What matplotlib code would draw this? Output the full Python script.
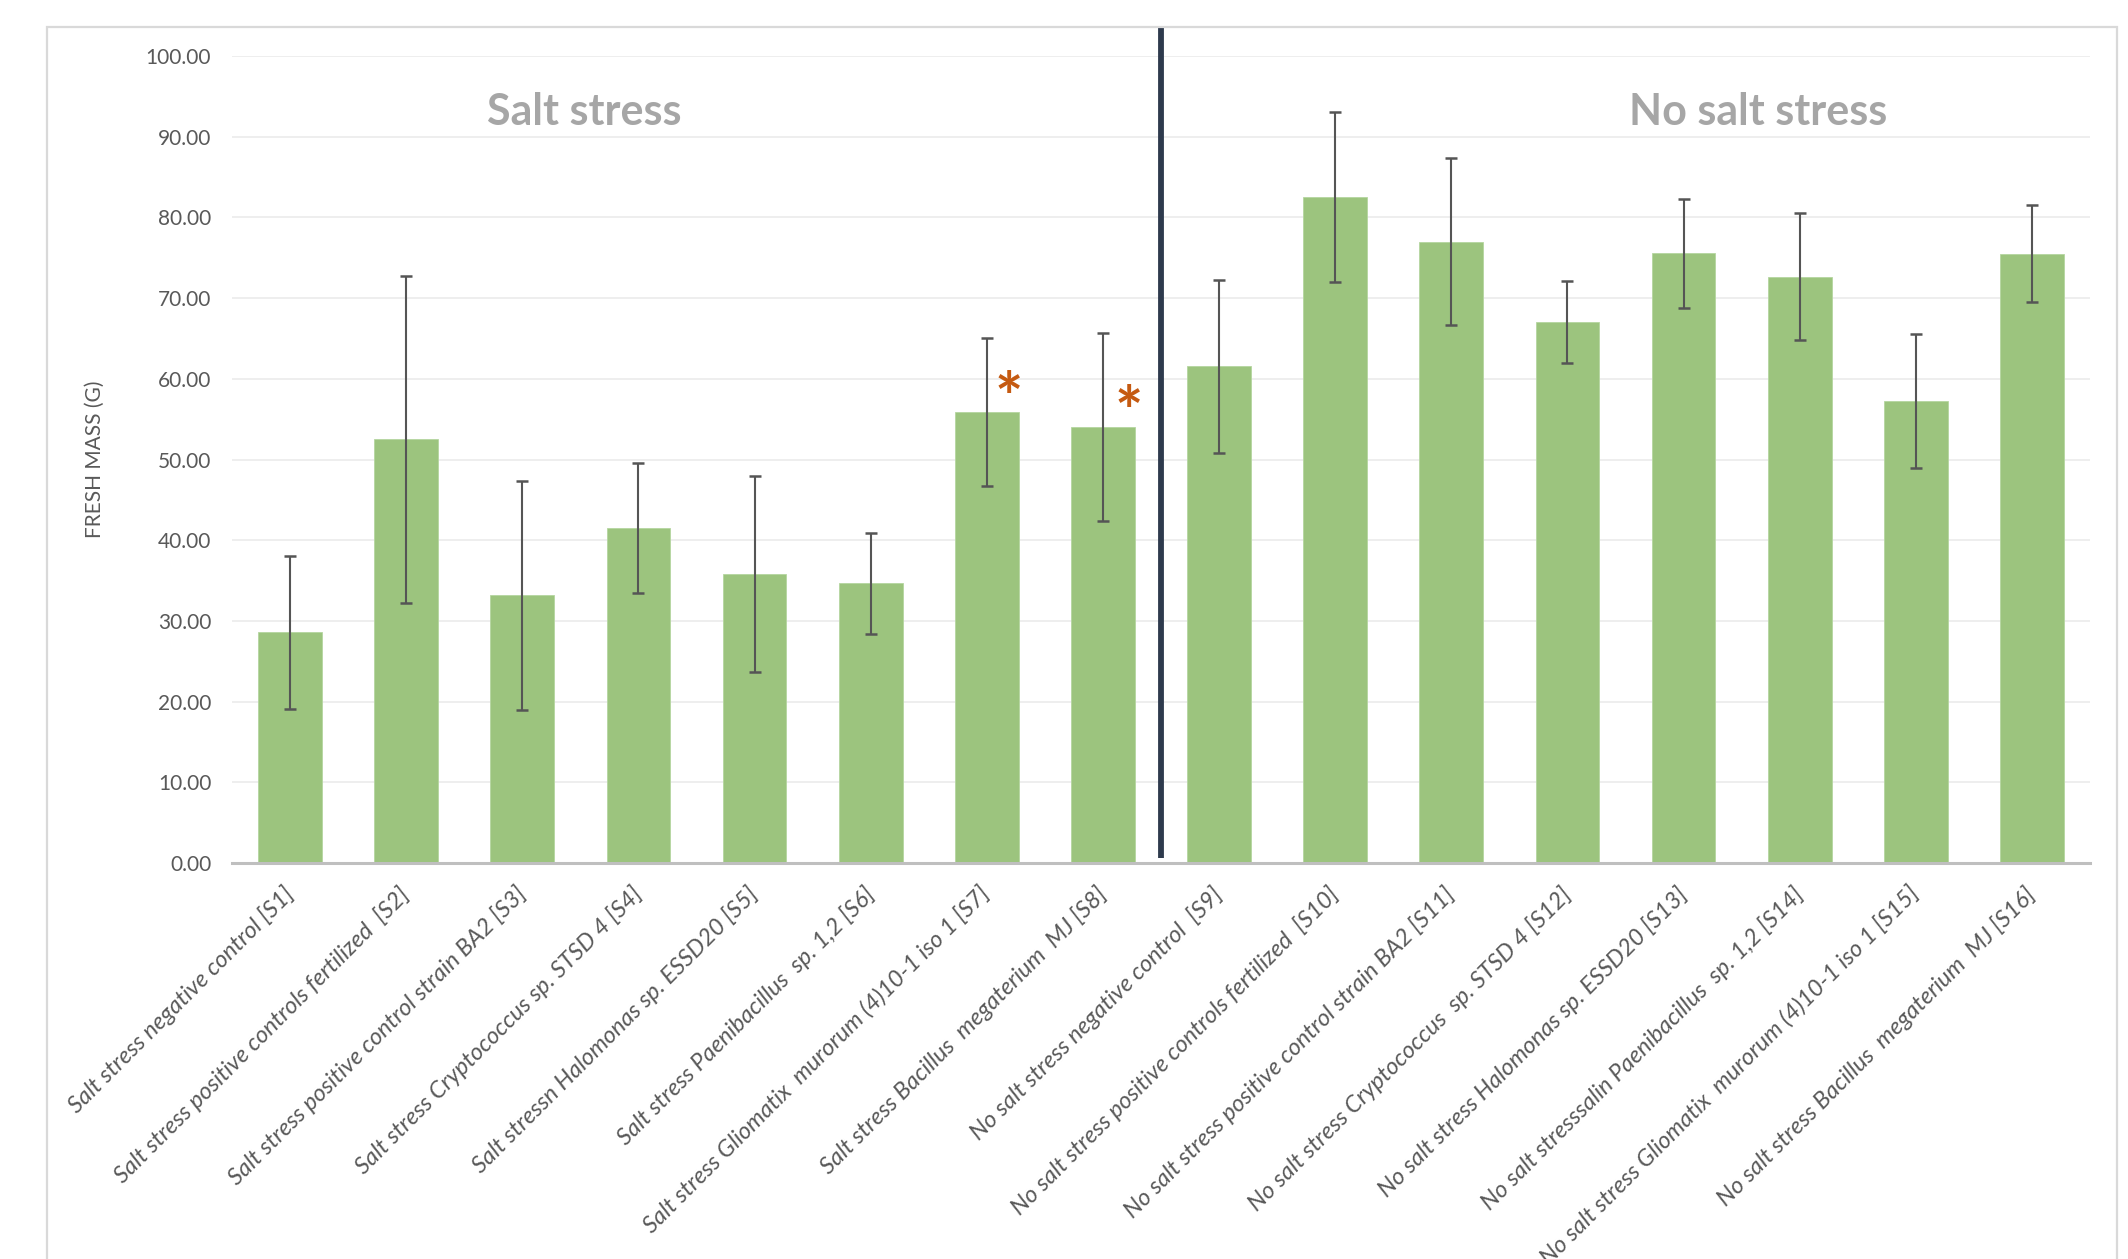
import matplotlib
matplotlib.use("Agg")
import matplotlib.pyplot as plt
from matplotlib.patches import Rectangle

# Fresh mass per treatment (mean and standard deviation, g)
labels = [
    "Salt stress negative control [S1]",
    "Salt stress positive controls fertilized  [S2]",
    "Salt stress positive control strain BA2 [S3]",
    "Salt stress Cryptococcus sp. STSD 4 [S4]",
    "Salt stressn Halomonas sp. ESSD20 [S5]",
    "Salt stress Paenibacillus  sp. 1,2 [S6]",
    "Salt stress Gliomatix  murorum (4)10-1 iso 1 [S7]",
    "Salt stress Bacillus  megaterium  MJ [S8]",
    "No salt stress negative control  [S9]",
    "No salt stress positive controls fertilized  [S10]",
    "No salt stress positive control strain BA2 [S11]",
    "No salt stress Cryptococcus  sp. STSD 4 [S12]",
    "No salt stress Halomonas sp. ESSD20 [S13]",
    "No salt stresssalin Paenibacillus  sp. 1,2 [S14]",
    "No salt stress Gliomatix  murorum (4)10-1 iso 1 [S15]",
    "No salt stress Bacillus  megaterium  MJ [S16]",
]
means = [28.6, 52.5, 33.15, 41.55, 35.8, 34.65, 55.85, 54.05,
         61.55, 82.55, 77.0, 67.05, 75.55, 72.65, 57.25, 75.5]
sd = [9.5, 20.3, 14.15, 8.05, 12.1, 6.25, 9.15, 11.65,
      10.75, 10.55, 10.3, 5.05, 6.75, 7.85, 8.25, 6.0]
significant = [6, 7]          # treatments marked with an asterisk
star_levels = [59.2, 57.4]
group_titles = ["Salt stress", "No salt stress"]
yticks = [0, 10, 20, 30, 40, 50, 60, 70, 80, 90, 100]

FONT = "Lato"
TICK_GREY = "#595959"
BAR_GREEN = "#9CC47E"

W, H, DPI = 2128, 1259, 100
fig = plt.figure(figsize=(W / DPI, H / DPI), dpi=DPI)
fig.patch.set_facecolor("white")

# chart-area border
fig.patches.append(Rectangle((47 / W, -0.05), (2117 - 47) / W, 1.05 - 27 / H,
                             transform=fig.transFigure, fill=False,
                             edgecolor="#D9D9D9", linewidth=1.6))

ax = fig.add_axes([232 / W, 1 - 863 / H, (2090 - 232) / W, (863 - 56) / H])
x = list(range(len(means)))

ax.bar(x, means, width=0.55, color=BAR_GREEN, edgecolor="#B5D6A0",
       linewidth=0.6, zorder=2)
ax.errorbar(x, means, yerr=sd, fmt="none", ecolor="#555555", elinewidth=1.5,
            capsize=4.3, capthick=1.8, zorder=3)

ax.set_xlim(-0.5, len(means) - 0.5)
ax.set_ylim(0, 100)
ax.set_yticks(yticks)
ax.set_yticklabels([f"{v:.2f}" for v in yticks], fontfamily=FONT,
                   fontsize=15, color=TICK_GREY)
ax.set_xticks(x)
ax.set_xticklabels(labels, rotation=45, ha="right", va="center",
                   rotation_mode="anchor", fontfamily=FONT, fontstyle="italic",
                   fontsize=17, color=TICK_GREY)
ax.tick_params(axis="both", length=0)
ax.tick_params(axis="y", pad=15)
ax.tick_params(axis="x", pad=20)

ax.grid(axis="y", color="#EDEDED", linewidth=1.3, zorder=0)
ax.set_axisbelow(True)
for side in ["top", "right", "left"]:
    ax.spines[side].set_visible(False)
ax.spines["bottom"].set_color("#BFBFBF")
ax.spines["bottom"].set_linewidth(2.2)
ax.spines["bottom"].set_zorder(4)

# divider between the two growing conditions
ax.plot([7.5, 7.5], [0.6, 103.6], color="#2E3A4D", linewidth=4.2,
        clip_on=False, zorder=5, solid_capstyle="butt")

ax.text(2.53, 91.4, group_titles[0], ha="center", va="baseline",
        fontfamily=FONT, fontweight="bold", fontsize=31, color="#A6A6A6")
ax.text(12.64, 91.4, group_titles[1], ha="center", va="baseline",
        fontfamily=FONT, fontweight="bold", fontsize=31, color="#A6A6A6")

STAR_SIZE = 48
for idx, lvl, off in zip(significant, star_levels, [0.19, 0.22]):
    ax.annotate("*", xy=(idx + off, lvl), xytext=(0, -0.25 * STAR_SIZE),
                textcoords="offset points", ha="center", va="center",
                fontfamily=FONT, fontweight="bold", fontsize=STAR_SIZE,
                color="#C55A11", zorder=6)

fig.text(95 / W, 1 - 459 / H, "FRESH MASS (G)", rotation=90, ha="center",
         va="center", fontfamily=FONT, fontsize=15, color=TICK_GREY)

fig.savefig("out.png", dpi=DPI, facecolor="white")
